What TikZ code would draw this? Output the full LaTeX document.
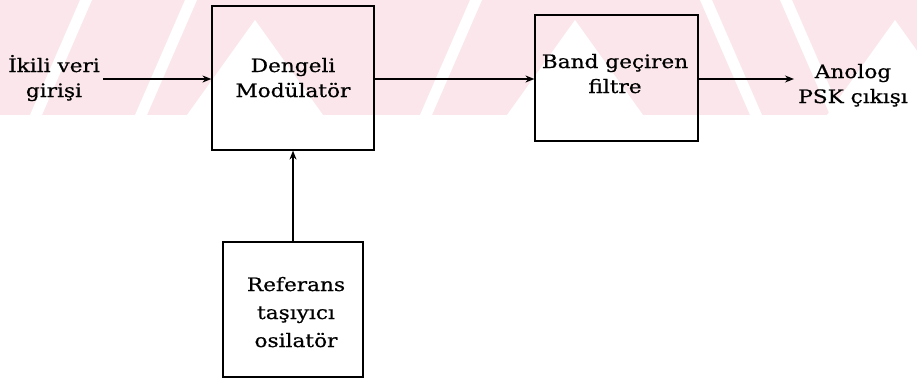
\documentclass[tikz,border=0pt]{standalone}
\usepackage{fontspec}
\setmainfont[FakeStretch=1.17,FakeBold=0.6]{DejaVu Serif}
\usetikzlibrary{arrows.meta}
\definecolor{wmpink}{RGB}{251,231,235}
\tikzset{
  blockbox/.style={draw=black, line width=1.2pt, inner sep=0pt, fill=none},
  lbl/.style={align=center, inner sep=0pt, font=\fontsize{18.5}{25}\selectfont},
  flow/.style={line width=1.2pt, -{Stealth[length=9pt,width=7pt]}},
}
\begin{document}
\begin{tikzpicture}[x=1pt,y=-1pt]
\useasboundingbox (0,0) rectangle (917,388);
% faint background band across the top
\fill[wmpink] (0,0) rectangle (917,115);
\foreach \c in {255,575,895}{
  \fill[white] (\c-68,115) -- (\c,20) -- (\c+68,115) -- cycle;
}
\foreach \s in {30,135,420}{
  \fill[white] (\s,115) -- (\s+12,115) -- (\s+62,0) -- (\s+50,0) -- cycle;
}
\foreach \s in {700,780}{
  \fill[white] (\s,0) -- (\s+12,0) -- (\s+62,115) -- (\s+50,115) -- cycle;
}

% blocks
\node[blockbox, minimum width=162pt, minimum height=144pt] (mod) at (293,78) {};
\node[blockbox, minimum width=163pt, minimum height=126pt] (bpf) at (616.5,78) {};
\node[blockbox, minimum width=140pt, minimum height=135pt] (osc) at (293,309.5) {};

% block texts (base anchor sits on the last line)
\node[lbl, anchor=base] (modt) at (293,97) {Dengeli\\Modülatör};
\node[lbl, anchor=base] (bpft) at (615,93) {Band geçiren\\filtre};
\node[lbl, anchor=base, font=\fontsize{18.5}{28}\selectfont] (osct) at (296,347) {Referans\\taşıyıcı\\osilatör};

% input and output labels
\node[lbl, anchor=base] (inl) at (54,97) {İkili veri\\girişi};
\node[lbl, anchor=base] (outl) at (853,103) {Anolog\\PSK çıkışı};

% connector ends
\coordinate (in) at (103,79);
\coordinate (out) at (794,79);

% signal path
\draw[flow] (in) -- (in -| mod.west);
\draw[flow] (mod.east |- 0,79) -- (bpf.west |- 0,79);
\draw[flow] (bpf.east |- 0,79) -- (out);
\draw[flow] (osc.north) -- (mod.south);
\end{tikzpicture}
\end{document}
